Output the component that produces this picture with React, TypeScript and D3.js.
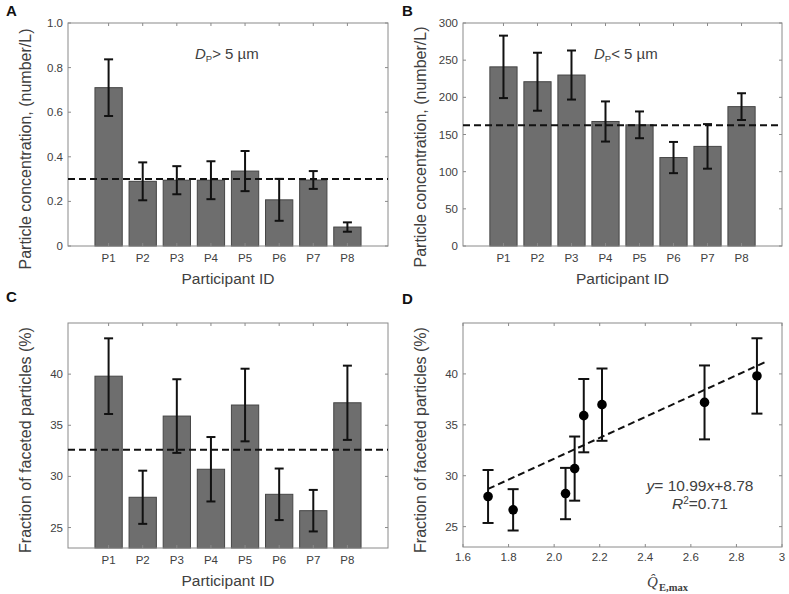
import React from "react";
import * as d3 from "d3";

const participants = ["P1", "P2", "P3", "P4", "P5", "P6", "P7", "P8"];

const largeConc = [0.71, 0.29, 0.295, 0.295, 0.336, 0.207, 0.296, 0.085];
const largeErr = [0.127, 0.085, 0.063, 0.085, 0.09, 0.094, 0.04, 0.021];
const largeMean = 0.3;

const smallConc = [241, 221, 230, 167.5, 163, 119, 134, 187.5];
const smallErr = [42, 39, 33, 27, 18, 21, 30, 18];
const smallMean = 162.5;

const facetFrac = [39.8, 27.96, 35.9, 30.7, 36.98, 28.25, 26.65, 37.2];
const facetErr = [3.7, 2.6, 3.6, 3.15, 3.55, 2.52, 2.03, 3.63];
const facetMean = 32.6;

const qHat = [2.89, 1.71, 2.13, 2.09, 2.21, 2.05, 1.82, 2.66];
const trendX = [1.71, 2.93];
const trendY = [28.7, 41.2];

const ticksA = [0, 0.2, 0.4, 0.6, 0.8, 1.0];
const tickLabelsA = ["0", "0.2", "0.4", "0.6", "0.8", "1.0"];
const ticksB = [0, 50, 100, 150, 200, 250, 300];
const ticksC = [25, 30, 35, 40];
const ticksDx = [1.6, 1.8, 2.0, 2.2, 2.4, 2.6, 2.8, 3.0];
const tickLabelsDx = ["1.6", "1.8", "2.0", "2.2", "2.4", "2.6", "2.8", "3"];

const FONT = "'Liberation Sans', Arial, sans-serif";
const AXIS = "#8a8a8a";
const TXT = "#404040";
const BAR = "#6e6e6e";
const BAR_EDGE = "#454545";

type Box = { x0: number; x1: number; y0: number; y1: number };

function Frame({ box, yScale, yTicks, yLabels, xTickPos }: any) {
  const { x0, x1, y0, y1 } = box;
  const tl = 3;
  return (
    <g>
      <rect x={x0} y={y0} width={x1 - x0} height={y1 - y0} fill="none" stroke={AXIS} strokeWidth={1} />
      {yTicks.map((t: number, i: number) => {
        const y = yScale(t);
        return (
          <g key={"y" + i}>
            <line x1={x0} x2={x0 + tl} y1={y} y2={y} stroke={AXIS} />
            <line x1={x1} x2={x1 - tl} y1={y} y2={y} stroke={AXIS} />
            <text x={x0 - 5} y={y} dy="0.35em" textAnchor="end" fontSize={11.5} fill={TXT} fontFamily={FONT}>
              {yLabels ? yLabels[i] : String(t)}
            </text>
          </g>
        );
      })}
      {xTickPos.map((x: number, i: number) => (
        <g key={"x" + i}>
          <line x1={x} x2={x} y1={y1} y2={y1 - tl} stroke={AXIS} />
          <line x1={x} x2={x} y1={y0} y2={y0 + tl} stroke={AXIS} />
        </g>
      ))}
    </g>
  );
}

function BarPanel({ box, values, errs, mean, yDomain, yTicks, yLabels, yTitle, yTitleY, annot, annotOp }: any) {
  const { x0, x1, y0, y1 } = box as Box;
  const x = d3.scaleLinear().domain([1 - 1.19, 8 + 1.19]).range([x0, x1]);
  const y = d3.scaleLinear().domain(yDomain).range([y1, y0]);
  const bw = x(0.8) - x(0);
  const cap = 4.5;
  const cx = participants.map((_, i) => x(i + 1));
  return (
    <g>
      {values.map((v: number, i: number) => (
        <rect key={i} x={cx[i] - bw / 2} y={y(v)} width={bw} height={y(yDomain[0]) - y(v)}
          fill={BAR} stroke={BAR_EDGE} strokeWidth={1} />
      ))}
      <Frame box={box} yScale={y} yTicks={yTicks} yLabels={yLabels} xTickPos={cx} />
      {values.map((v: number, i: number) => {
        const lo = y(v - errs[i]);
        const hi = y(v + errs[i]);
        return (
          <g key={"e" + i} stroke="#111" strokeWidth={2}>
            <line x1={cx[i]} x2={cx[i]} y1={lo} y2={hi} />
            <line x1={cx[i] - cap} x2={cx[i] + cap} y1={lo} y2={lo} />
            <line x1={cx[i] - cap} x2={cx[i] + cap} y1={hi} y2={hi} />
          </g>
        );
      })}
      <line x1={x0} x2={x1} y1={y(mean)} y2={y(mean)} stroke="#111" strokeWidth={2} strokeDasharray="7,4" />
      {participants.map((p, i) => (
        <text key={p} x={cx[i]} y={y1 + 16} textAnchor="middle" fontSize={11.5} fill={TXT} fontFamily={FONT}>{p}</text>
      ))}
      <text x={(x0 + x1) / 2} y={y1 + 38} textAnchor="middle" fontSize={15.5} fill={TXT} fontFamily={FONT}>Participant ID</text>
      <text transform={`translate(${x0 - 37},${yTitleY}) rotate(-90)`} textAnchor="middle" fontSize={16} fill={TXT} fontFamily={FONT}>{yTitle}</text>
      {annot && (
        <text x={annot} y={y0 + 36} fontSize={15} fill={TXT} fontFamily={FONT}>
          <tspan fontStyle="italic">D</tspan>
          <tspan fontSize={9.5} dy={3}>P</tspan>
          <tspan dy={-3}>{annotOp + " 5 µm"}</tspan>
        </text>
      )}
    </g>
  );
}

function ScatterPanel({ box }: any) {
  const { x0, x1, y0, y1 } = box as Box;
  const x = d3.scaleLinear().domain([1.6, 3]).range([x0, x1]);
  const y = d3.scaleLinear().domain([23, 45]).range([y1, y0]);
  const cap = 5.5;
  const line = d3.line<number>().x((d) => x(d)).y((_, i) => y(trendY[i]));
  return (
    <g>
      <rect x={x0} y={y0} width={x1 - x0} height={y1 - y0} fill="none" stroke={AXIS} />
      {ticksC.map((t) => (
        <g key={"y" + t}>
          <line x1={x0} x2={x0 + 3} y1={y(t)} y2={y(t)} stroke={AXIS} />
          <line x1={x1} x2={x1 - 3} y1={y(t)} y2={y(t)} stroke={AXIS} />
          <text x={x0 - 5} y={y(t)} dy="0.35em" textAnchor="end" fontSize={11.5} fill={TXT} fontFamily={FONT}>{t}</text>
        </g>
      ))}
      {ticksDx.map((t, i) => (
        <g key={"x" + i}>
          <line x1={x(t)} x2={x(t)} y1={y1} y2={y1 - 3} stroke={AXIS} />
          <line x1={x(t)} x2={x(t)} y1={y0} y2={y0 + 3} stroke={AXIS} />
          <text x={x(t)} y={y1 + 14} textAnchor="middle" fontSize={11.5} fill={TXT} fontFamily={FONT}>{tickLabelsDx[i]}</text>
        </g>
      ))}
      <path d={line(trendX) || ""} fill="none" stroke="#111" strokeWidth={2} strokeDasharray="7,4" />
      {qHat.map((q, i) => {
        const cx = x(q);
        const lo = y(facetFrac[i] - facetErr[i]);
        const hi = y(facetFrac[i] + facetErr[i]);
        return (
          <g key={i}>
            <g stroke="#111" strokeWidth={2}>
              <line x1={cx} x2={cx} y1={lo} y2={hi} />
              <line x1={cx - cap} x2={cx + cap} y1={lo} y2={lo} />
              <line x1={cx - cap} x2={cx + cap} y1={hi} y2={hi} />
            </g>
            <circle cx={cx} cy={y(facetFrac[i])} r={4.8} fill="#000" />
          </g>
        );
      })}
      <text x={700} y={491} textAnchor="middle" fontSize={15.5} fill={TXT} fontFamily={FONT}>
        <tspan fontStyle="italic">y</tspan>= 10.99<tspan fontStyle="italic">x</tspan>+8.78
      </text>
      <text x={700} y={509} textAnchor="middle" fontSize={15.5} fill={TXT} fontFamily={FONT}>
        <tspan fontStyle="italic">R</tspan><tspan fontSize={10} dy={-5}>2</tspan><tspan dy={5}>=0.71</tspan>
      </text>
      <text x={647} y={587} fontSize={15} fill={TXT} fontFamily="'Liberation Serif', serif" fontStyle="italic">Q̂</text>
      <text x={659} y={591} fontSize={10.5} fill={TXT} fontFamily="'Liberation Serif', serif" fontWeight="bold">E,max</text>
      <text transform={`translate(${x0 - 37},440) rotate(-90)`} textAnchor="middle" fontSize={16} fill={TXT} fontFamily={FONT}>Fraction of faceted particles (%)</text>
    </g>
  );
}

export default function App() {
  const boxA = { x0: 68, x1: 388, y0: 23, y1: 246 };
  const boxB = { x0: 463, x1: 782, y0: 23, y1: 246 };
  const boxC = { x0: 68, x1: 388, y0: 323, y1: 548 };
  const boxD = { x0: 463, x1: 782, y0: 323, y1: 547 };
  return (
    <svg width={789} height={594} style={{ position: "absolute", left: 0, top: 0, background: "#fff" }}>
      <rect width={789} height={594} fill="#fff" />
      <BarPanel box={boxA} values={largeConc} errs={largeErr} mean={largeMean} yDomain={[0, 1]}
        yTicks={ticksA} yLabels={tickLabelsA} yTitle="Particle concentration, (number/L)" yTitleY={149}
        annot={195} annotOp=">" />
      <BarPanel box={boxB} values={smallConc} errs={smallErr} mean={smallMean} yDomain={[0, 300]}
        yTicks={ticksB} yTitle="Particle concentration, (number/L)" yTitleY={147}
        annot={594} annotOp="<" />
      <BarPanel box={boxC} values={facetFrac} errs={facetErr} mean={facetMean} yDomain={[23, 45]}
        yTicks={ticksC} yTitle="Fraction of faceted particles (%)" yTitleY={440} />
      <ScatterPanel box={boxD} />
      <g fontFamily={FONT} fontWeight="bold" fontSize={15} fill="#111">
        <text x={6} y={16}>A</text>
        <text x={402} y={16}>B</text>
        <text x={6} y={302}>C</text>
        <text x={402} y={304}>D</text>
      </g>
    </svg>
  );
}
